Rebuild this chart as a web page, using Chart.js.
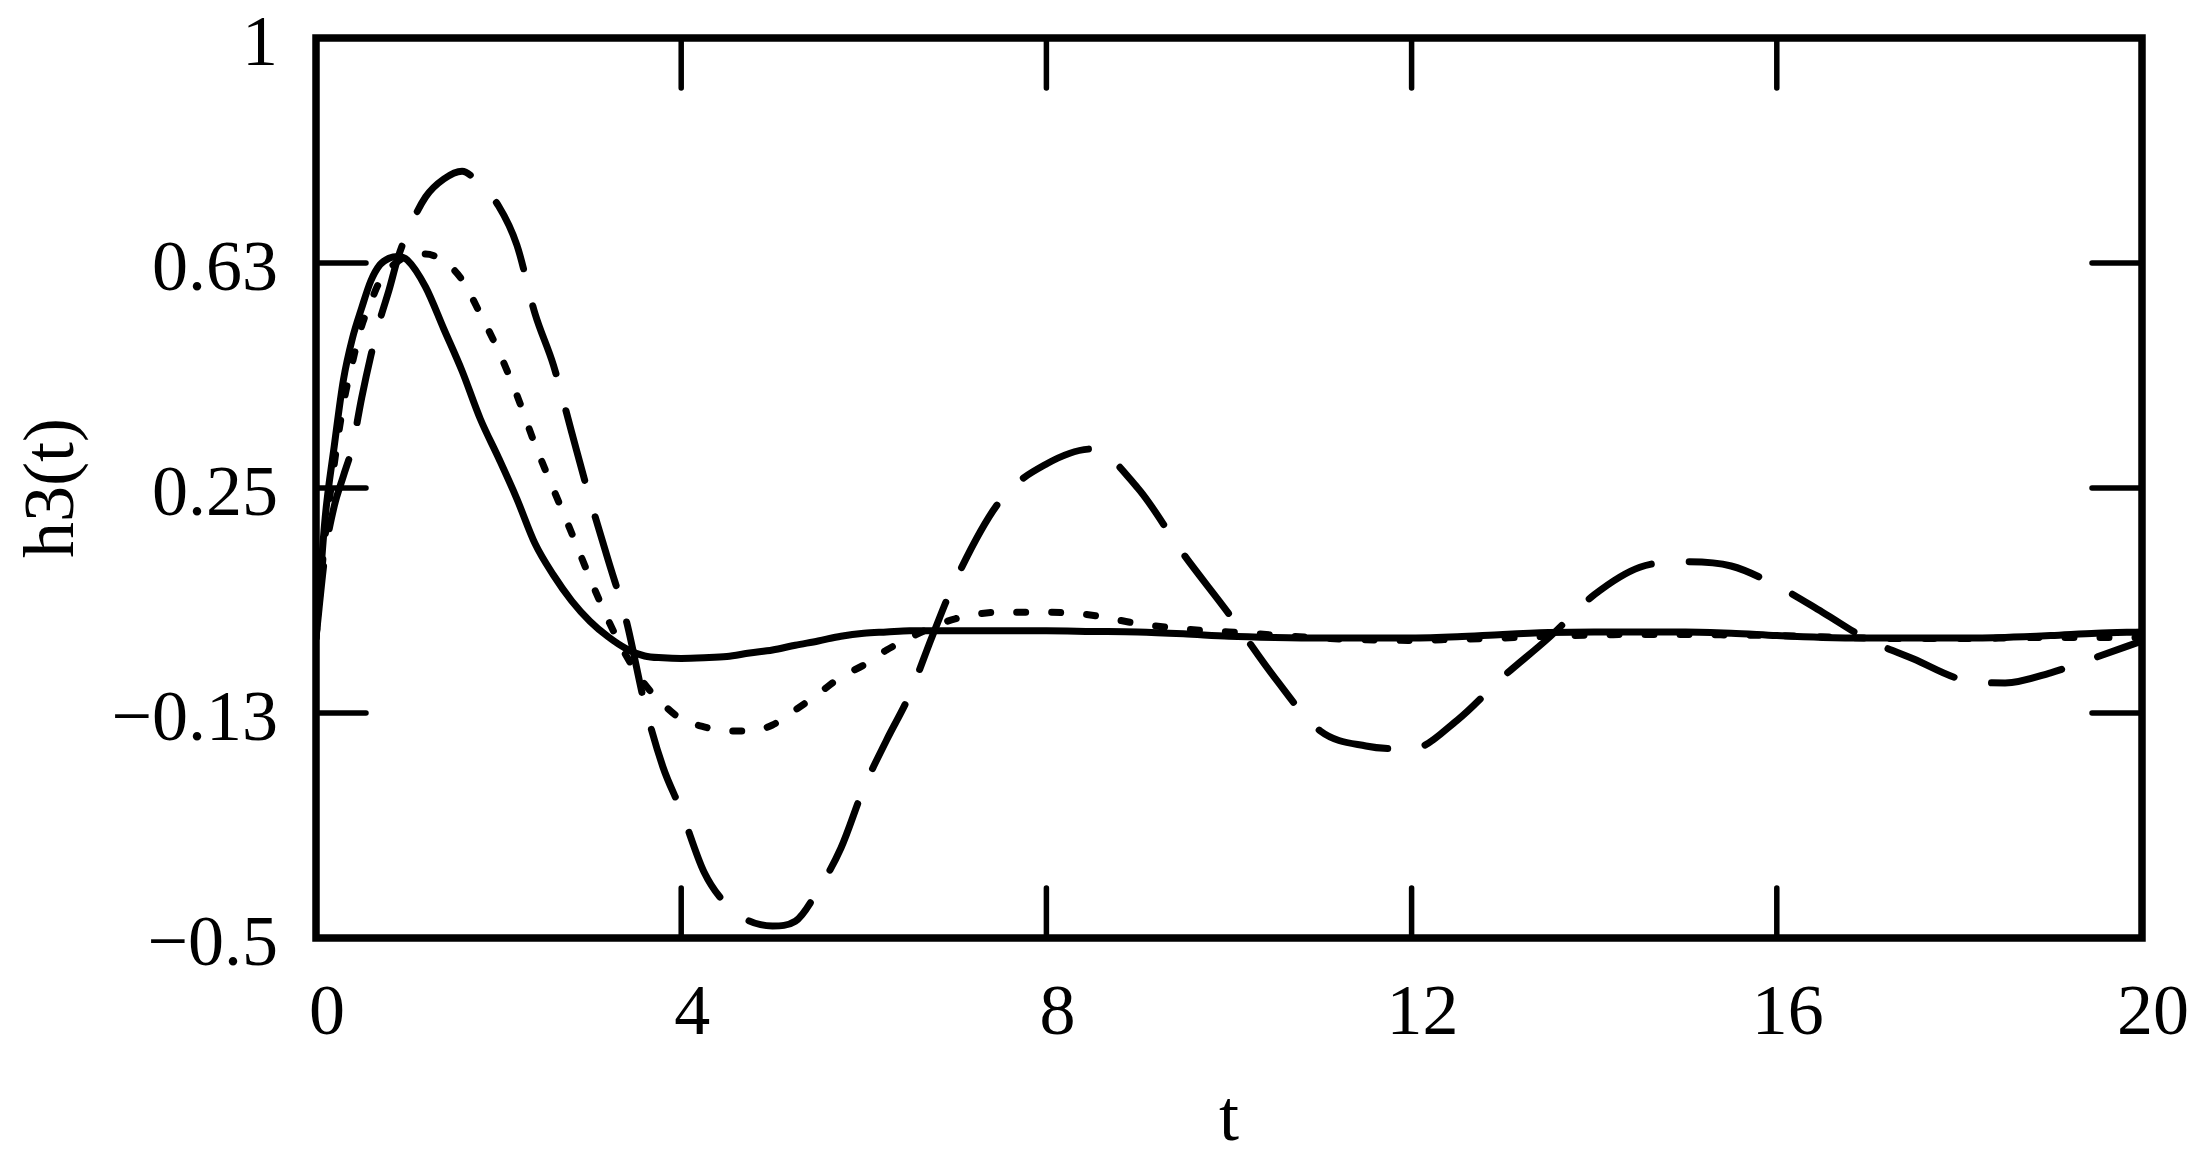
<!DOCTYPE html>
<html>
<head>
<meta charset="utf-8">
<script src="https://cdn.jsdelivr.net/npm/chart.js@4.4.1/dist/chart.umd.min.js"></script>
<style>
  html, body { margin: 0; padding: 0; background: #fff; }
  canvas { display: block; }
</style>
</head>
<body>
<canvas id="myChart" width="2211" height="1165"></canvas>
<script>
// time samples shared by the three curves
const t = [0, 0.1, 0.2, 0.3, 0.4, 0.5, 0.6, 0.7, 0.8, 0.9, 1.0, 1.2, 1.4, 1.6, 1.8, 2.0, 2.2, 2.4, 2.6, 2.8,
    3.0, 3.2, 3.4, 3.6, 3.8, 4.0, 4.25, 4.5, 4.75, 5.0, 5.25, 5.5, 5.75, 6.0, 6.25, 6.5, 6.75, 7.0, 7.5, 8.0,
    8.5, 9.0, 9.5, 10, 10.5, 11, 11.5, 12, 12.5, 13, 13.5, 14, 14.5, 15, 15.5, 16, 16.5, 17, 17.5, 18,
    18.5, 19, 19.5, 20];

// solid curve
const hSolid = [0, 0.2, 0.32, 0.43, 0.5, 0.55, 0.595, 0.622, 0.633, 0.636, 0.63, 0.585, 0.515, 0.445, 0.365, 0.3, 0.232, 0.157, 0.105, 0.062,
    0.028, 0.002, -0.018, -0.03, -0.033, -0.034, -0.033, -0.031, -0.025, -0.02, -0.012, -0.005, 0.003, 0.008, 0.01, 0.012, 0.012, 0.012, 0.012, 0.012,
    0.011, 0.01, 0.007, 0.003, 0.001, 0, 0, 0, 0.002, 0.006, 0.009, 0.01, 0.01, 0.01, 0.008, 0.004, 0.001, 0, 0, 0,
    0.001, 0.004, 0.008, 0.01];

// short dashes
const hDotted = [0, 0.17, 0.29, 0.39, 0.46, 0.52, 0.56, 0.595, 0.615, 0.628, 0.636, 0.64, 0.628, 0.597, 0.54, 0.478, 0.405, 0.322, 0.248, 0.175,
    0.1, 0.03, -0.03, -0.077, -0.11, -0.135, -0.148, -0.155, -0.155, -0.145, -0.12, -0.093, -0.065, -0.045, -0.02, 0, 0.018, 0.032, 0.043, 0.043,
    0.038, 0.024, 0.015, 0.01, 0.005, 0, -0.003, -0.004, -0.002, 0, 0.003, 0.005, 0.006, 0.006, 0.005, 0.004, 0.002, 0, -0.001, -0.001,
    0, 0.001, 0.001, 0.001];

// long dashes
const hDashed = [0, 0.14, 0.22, 0.27, 0.32, 0.4, 0.47, 0.53, 0.58, 0.635, 0.675, 0.735, 0.765, 0.778, 0.755, 0.72, 0.655, 0.54, 0.455, 0.343,
    0.232, 0.13, 0.028, -0.11, -0.215, -0.288, -0.39, -0.445, -0.472, -0.48, -0.472, -0.42, -0.35, -0.25, -0.17, -0.095, 0.003, 0.095, 0.23, 0.29,
    0.315, 0.25, 0.14, 0.04, -0.066, -0.155, -0.18, -0.185, -0.137, -0.065, 0, 0.072, 0.118, 0.127, 0.12, 0.087, 0.043, -0.003, -0.035, -0.068,
    -0.075, -0.058, -0.032, -0.005];

const xTicks = [0, 4, 8, 12, 16, 20];
const xTickLabels = ['0', '4', '8', '12', '16', '20'];
const yTicks = [1, 0.625, 0.25, -0.125, -0.5];
const yTickLabels = ['1', '0.63', '0.25', '\u22120.13', '\u22120.5'];

const serif = '"Liberation Serif", "Times New Roman", serif';

const toPoints = (vals) => t.map((x, i) => ({ x: x, y: vals[i] }));

const line = (label, vals, dash) => ({
    label: label,
    data: toPoints(vals),
    borderColor: '#000',
    borderWidth: 7,
    borderDash: dash,
    borderCapStyle: 'round',
    borderJoinStyle: 'round',
    pointRadius: 0,
    cubicInterpolationMode: 'monotone',
    fill: false
});

// box round the plot with tick marks pointing inward on all four sides
const frame = {
    id: 'frame',
    afterDatasetsDraw(chart) {
        const { ctx, chartArea: a, scales } = chart;
        ctx.save();
        ctx.strokeStyle = '#000';
        ctx.lineCap = 'round';
        ctx.lineWidth = 5.5;
        ctx.beginPath();
        xTicks.slice(1, -1).forEach(v => {
            const px = scales.x.getPixelForValue(v);
            ctx.moveTo(px, a.top); ctx.lineTo(px, a.top + 50);
            ctx.moveTo(px, a.bottom); ctx.lineTo(px, a.bottom - 50);
        });
        yTicks.slice(1, -1).forEach(v => {
            const py = scales.y.getPixelForValue(v);
            ctx.moveTo(a.left, py); ctx.lineTo(a.left + 50, py);
            ctx.moveTo(a.right, py); ctx.lineTo(a.right - 50, py);
        });
        ctx.stroke();
        ctx.lineCap = 'square';
        ctx.lineWidth = 7.5;
        ctx.strokeRect(a.left, a.top, a.right - a.left, a.bottom - a.top);
        ctx.restore();
    }
};

const ctx = document.getElementById('myChart').getContext('2d');
const myChart = new Chart(ctx, {
    type: 'line',
    data: {
        datasets: [
            line('solid', hSolid, []),
            line('dotted', hDotted, [9, 26]),
            line('dashed', hDashed, [72, 38])
        ]
    },
    options: {
        responsive: false,
        animation: false,
        devicePixelRatio: 1,
        layout: { padding: { left: 0, right: 69, top: 38, bottom: 0 } },
        plugins: {
            legend: { display: false },
            tooltip: { enabled: false }
        },
        scales: {
            x: {
                type: 'linear',
                min: 0,
                max: 20,
                afterBuildTicks: (s) => { s.ticks = xTicks.map(v => ({ value: v })); },
                afterFit: (s) => { s.height = 227; s.paddingLeft = 0; s.paddingRight = 0; },
                grid: { display: false },
                border: { display: false },
                ticks: {
                    autoSkip: false,
                    maxRotation: 0,
                    padding: 26,
                    labelOffset: 11,
                    color: '#000',
                    font: { family: serif, size: 72 },
                    callback: (v) => xTickLabels[xTicks.indexOf(v)]
                },
                title: {
                    display: true,
                    text: 't',
                    color: '#000',
                    font: { family: serif, size: 72 },
                    padding: { top: 0, bottom: 1 }
                }
            },
            y: {
                min: -0.5,
                max: 1,
                afterBuildTicks: (s) => { s.ticks = yTicks.map(v => ({ value: v })); },
                afterFit: (s) => { s.width = 316; s.paddingTop = 0; s.paddingBottom = 0; },
                grid: { display: false },
                border: { display: false },
                ticks: {
                    autoSkip: false,
                    padding: 30,
                    labelOffset: 8,
                    color: '#000',
                    font: { family: serif, size: 72 },
                    callback: (v) => yTickLabels[yTicks.indexOf(v)]
                },
                title: {
                    display: true,
                    text: 'h3(t)',
                    color: '#000',
                    font: { family: serif, size: 72 },
                    padding: { top: 11, bottom: 0 }
                }
            }
        }
    },
    plugins: [frame]
});
</script>
</body>
</html>
